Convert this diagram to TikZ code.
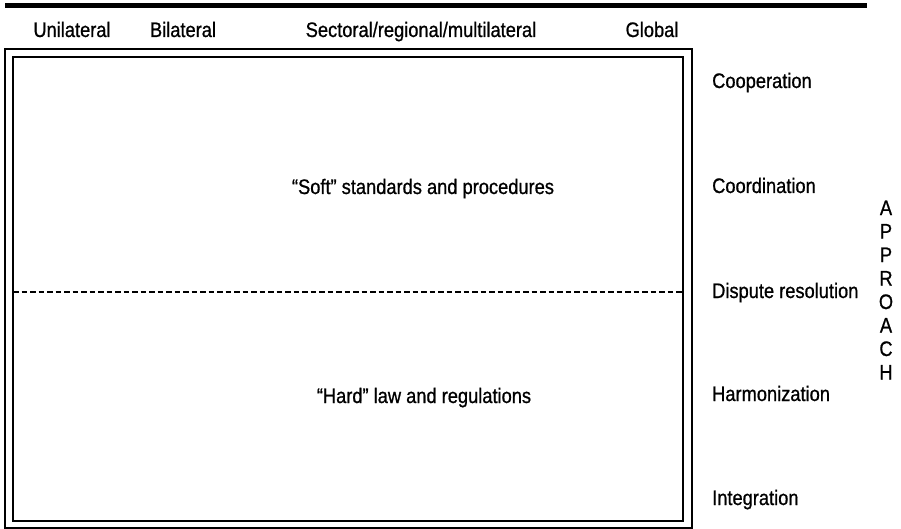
\documentclass[tikz,border=0pt]{standalone}
\usepackage{fontspec}
\setmainfont[FakeStretch=0.87,FakeBold=0.8]{Liberation Sans}
\newfontfamily\lbfont[FakeStretch=0.87,FakeBold=0.8]{Liberation Sans}
\begin{document}
\begin{tikzpicture}[x=1pt,y=-1pt,
  lbl/.style={inner sep=0pt, anchor=base, font=\fontsize{21}{25}\lbfont},
  rlbl/.style={lbl, anchor=base west},
  boxline/.style={line width=1.4pt},
  divider/.style={line width=2.2pt, dash pattern=on 5.5pt off 3pt}]
\useasboundingbox (0,0) rectangle (901,529);
% top bar
\fill[black] (5,3) rectangle (867,8);
% column headers
\node[lbl] (uni) at (72,37) {Unilateral};
\node[lbl] (bi) at (183,37) {Bilateral};
\node[lbl] (sec) at (421,37) {Sectoral/regional/multilateral};
\node[lbl] (glob) at (652,37) {Global};
% double frame
\coordinate (oTL) at (5,49);
\coordinate (oBR) at (692,528);
\coordinate (iTL) at (13,57);
\coordinate (iBR) at (683,521);
\draw[boxline] (oTL) rectangle (oBR);
\draw[boxline] (iTL) rectangle (iBR);
% divider
\coordinate (dL) at (13,292);
\coordinate (dR) at (683,292);
\draw[divider] (dL) -- (dR);
% body texts
\node[lbl] (soft) at (423,194) {“Soft” standards and procedures};
\node[lbl] (hard) at (424,403) {“Hard” law and regulations};
% right labels
\node[rlbl] (coop) at (712,88) {Cooperation};
\node[rlbl] (coord) at (712,193) {Coordination};
\node[rlbl] (disp) at (712,298) {Dispute resolution};
\node[rlbl] (harm) at (712,401) {Harmonization};
\node[rlbl] (integ) at (712,505) {Integration};
% APPROACH
\foreach \ch [count=\i] in {A,P,P,R,O,A,C,H}
  \node[lbl] (ap\i) at (886,{215+(\i-1)*23.5}) {\ch};
\end{tikzpicture}
\end{document}
